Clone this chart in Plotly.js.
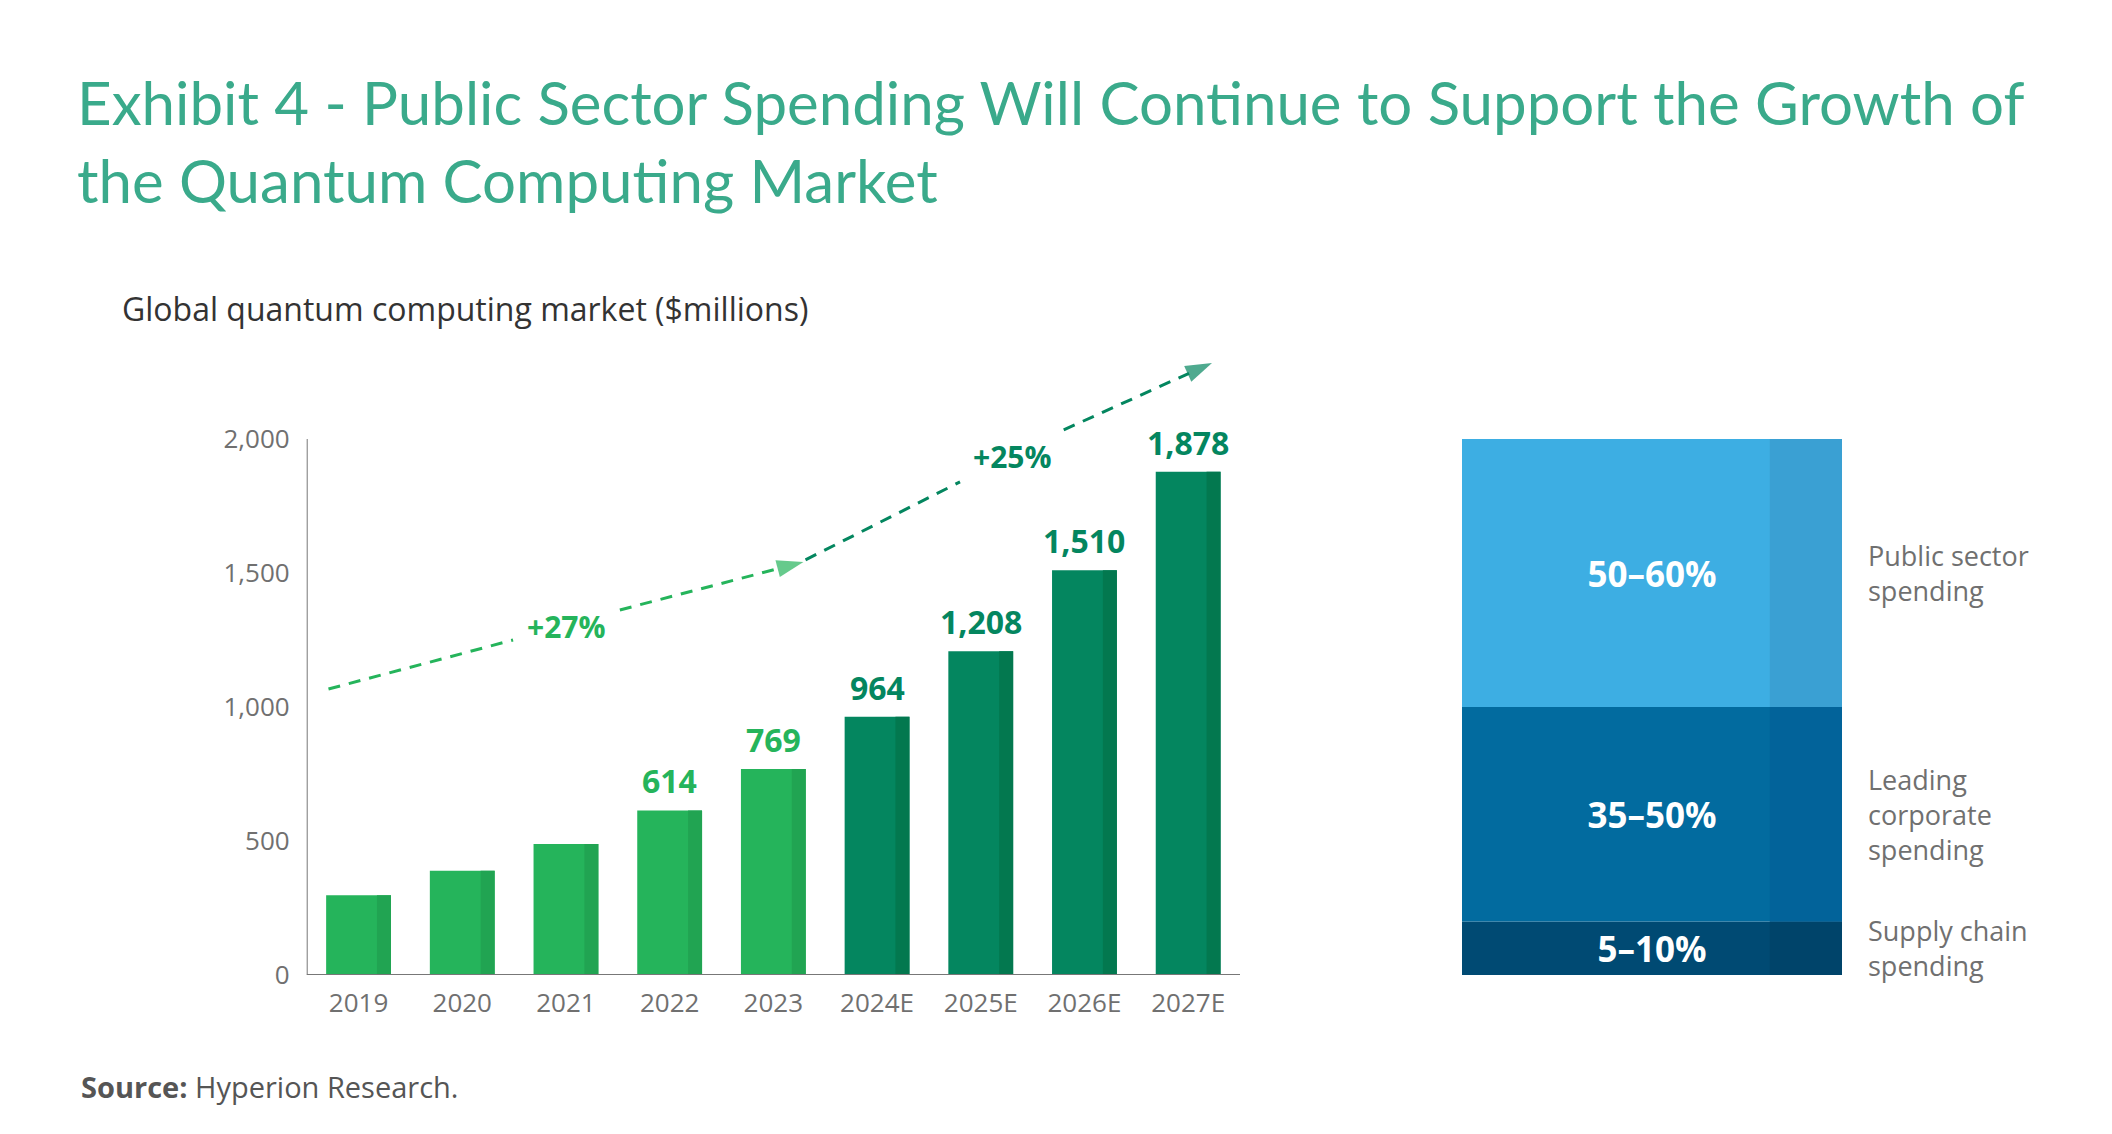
<!DOCTYPE html>
<html>
<head>
<meta charset="utf-8">
<script src="https://cdn.plot.ly/plotly-3.0.1.min.js"></script>
<style>
  html, body { margin: 0; padding: 0; background: #ffffff; }
  #chart { width: 2112px; height: 1134px; }
</style>
</head>
<body>
<div id="chart"></div>
<script>
const years = ['2019', '2020', '2021', '2022', '2023', '2024E', '2025E', '2026E', '2027E'];
const marketSize = [298, 389, 489, 614, 769, 964, 1208, 1510, 1878];
const isEstimate = [false, false, false, false, false, true, true, true, true];
const showValue = [false, false, false, true, true, true, true, true, true];
const yTicks = [0, 500, 1000, 1500, 2000];

// dashed growth arrows (x = year index, y = $M), null = gap for the label
const trendActualX = [-0.29, 1.49, null, 2.52, 4.29];
const trendActualY = [1067, 1250, null, 1362, 1541];
const trendForecastX = [4.31, 5.80, null, 6.80, 8.23];
const trendForecastY = [1549, 1840, null, 2034, 2284];
const growthText = ['+27%', '+25%'];
const growthX = [2.01, 6.31];
const growthY = [1299, 1933];

// spending split, bottom to top
const spendShare = [10, 40, 50];
const spendText = ['5–10%', '35–50%', '50–60%'];
const spendNames = ['Supply chain<br>spending', 'Leading<br>corporate<br>spending', 'Public sector<br>spending'];

// --- styles ---
const LIGHT = '#25b45b', LIGHT_EDGE = '#21a452';
const DARK = '#04865f', DARK_EDGE = '#03784f';
const BLUES = ['#004a73', '#026b9f', '#3daee3'];
const BLUE_EDGES = ['#00446a', '#02639a', '#3aa0d3'];
const GREY = '#707070';
const BODY = 'Open Sans, sans-serif';
const BAR_W = 0.625, EDGE_W = 0.135;
const Y_MAX = 2350;

const xIdx = years.map((_, i) => i);

const traces = [];

traces.push({
    type: 'bar',
    x: xIdx,
    y: marketSize,
    width: BAR_W,
    offset: -BAR_W / 2,
    marker: { color: isEstimate.map(e => e ? DARK : LIGHT), line: { width: 0 } },
    hoverinfo: 'skip'
});
// darker right edge on each bar
traces.push({
    type: 'bar',
    x: xIdx,
    y: marketSize,
    width: EDGE_W,
    offset: BAR_W / 2 - EDGE_W,
    marker: { color: isEstimate.map(e => e ? DARK_EDGE : LIGHT_EDGE), line: { width: 0 } },
    hoverinfo: 'skip'
});

const dashedLine = (xs, ys, color) => ({
    type: 'scatter',
    mode: 'lines+markers',
    x: xs,
    y: ys,
    connectgaps: false,
    line: { color: color, width: 3, dash: '12px,9px' },
    marker: {
        symbol: 'arrow',
        angleref: 'previous',
        size: xs.map((_, i) => i === xs.length - 1 ? 28 : 0),
        color: color,
        line: { width: 0 }
    },
    cliponaxis: false,
    hoverinfo: 'skip'
});
traces.push(dashedLine(trendActualX, trendActualY, LIGHT));
traces.push(dashedLine(trendForecastX, trendForecastY, DARK));

// right hand split block
let acc = 0;
const spendBase = spendShare.map(v => { const b = acc; acc += v; return b; });
traces.push({
    type: 'bar',
    x: spendShare.map(() => 0.5),
    y: spendShare,
    base: spendBase,
    width: 1,
    marker: { color: BLUES, line: { width: 0 } },
    text: spendText,
    textposition: 'inside',
    insidetextanchor: 'middle',
    constraintext: 'none',
    textfont: { family: BODY, size: 35, color: '#ffffff', weight: 700 },
    xaxis: 'x2',
    yaxis: 'y2',
    hoverinfo: 'skip'
});
traces.push({
    type: 'bar',
    x: spendShare.map(() => 0.5),
    y: spendShare,
    base: spendBase,
    width: 0.19,
    offset: 0.31,
    marker: { color: BLUE_EDGES, line: { width: 0 } },
    xaxis: 'x2',
    yaxis: 'y2',
    hoverinfo: 'skip'
});

const annotations = [];
marketSize.forEach((v, i) => {
    if (!showValue[i]) return;
    annotations.push({
        x: i, y: v, xref: 'x', yref: 'y',
        text: v.toLocaleString('en-US'),
        showarrow: false,
        yanchor: 'bottom',
        yshift: 6,
        font: { family: BODY, size: 32, weight: 700, color: isEstimate[i] ? DARK : LIGHT }
    });
});
growthText.forEach((t, i) => {
    annotations.push({
        x: growthX[i], y: growthY[i], xref: 'x', yref: 'y',
        text: t,
        showarrow: false,
        font: { family: BODY, size: 30, weight: 700, color: i === 0 ? LIGHT : DARK }
    });
});
spendNames.forEach((n, i) => {
    annotations.push({
        x: 1, y: spendBase[i] + spendShare[i] / 2, xref: 'x2', yref: 'y2',
        text: n,
        showarrow: false,
        xanchor: 'left',
        align: 'left',
        xshift: 24,
        font: { family: BODY, size: 27, color: GREY }
    });
});
annotations.push({
    x: 120 / 2112, y: 1 - 308 / 1134, xref: 'paper', yref: 'paper',
    xanchor: 'left', yanchor: 'middle',
    text: 'Global quantum computing market ($millions)',
    showarrow: false,
    font: { family: BODY, size: 32, color: '#333333' }
});
annotations.push({
    x: 79 / 2112, y: 1 - 1086 / 1134, xref: 'paper', yref: 'paper',
    xanchor: 'left', yanchor: 'middle',
    text: '<b>Source:</b> Hyperion Research.',
    showarrow: false,
    font: { family: BODY, size: 29, color: '#555555' }
});

const axisLine = { color: '#777777', width: 2 };
const shapes = [
    { type: 'line', xref: 'x', yref: 'y', x0: -0.5, x1: -0.5, y0: 0, y1: 2000, line: axisLine },
    { type: 'line', xref: 'x', yref: 'y', x0: -0.5, x1: 8.5, y0: 0, y1: 0, line: axisLine }
];

const layout = {
    width: 2112,
    height: 1134,
    margin: { l: 0, r: 0, t: 0, b: 0 },
    paper_bgcolor: '#ffffff',
    plot_bgcolor: '#ffffff',
    showlegend: false,
    barmode: 'overlay',
    title: {
        text: 'Exhibit 4 - Public Sector Spending Will Continue to Support the Growth of<br>the Quantum Computing Market',
        x: 77 / 2112,
        xanchor: 'left',
        xref: 'paper',
        y: 1 - 125 / 1134,
        yanchor: 'top',
        yref: 'paper',
        font: { family: 'Lato, sans-serif', size: 60, color: '#3aaa8b' }
    },
    xaxis: {
        domain: [306.7 / 2112, 1240 / 2112],
        range: [-0.5, 8.5],
        tickvals: xIdx,
        ticktext: years,
        ticks: '',
        showgrid: false,
        zeroline: false,
        showline: false,
        ticklabelstandoff: 10,
        tickfont: { family: BODY, size: 26, color: GREY },
        fixedrange: true
    },
    yaxis: {
        domain: [1 - 975 / 1134, 1 - (975 - Y_MAX * 0.268) / 1134],
        range: [0, Y_MAX],
        tickvals: yTicks,
        tickformat: ',',
        ticks: '',
        showgrid: false,
        zeroline: false,
        showline: false,
        ticklabelstandoff: 16,
        tickfont: { family: BODY, size: 26, color: GREY },
        fixedrange: true
    },
    xaxis2: {
        domain: [1462 / 2112, 1842 / 2112],
        range: [0, 1],
        anchor: 'y2',
        visible: false,
        fixedrange: true
    },
    yaxis2: {
        domain: [1 - 975 / 1134, 1 - (975 - Y_MAX * 0.268) / 1134],
        range: [0, Y_MAX / 20],
        anchor: 'x2',
        visible: false,
        fixedrange: true
    },
    annotations: annotations,
    shapes: shapes
};

Plotly.newPlot('chart', traces, layout, { displayModeBar: false, staticPlot: true });
</script>
</body>
</html>
